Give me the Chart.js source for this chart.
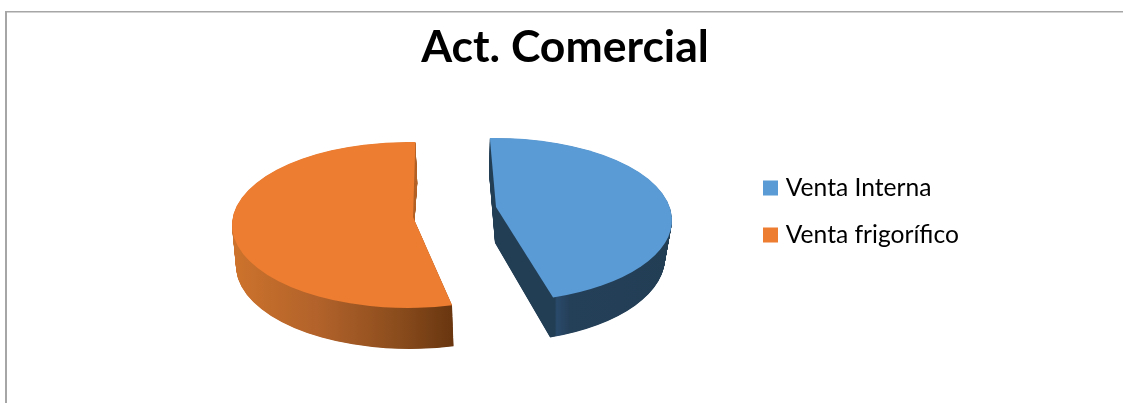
<!DOCTYPE html>
<html>
<head>
<meta charset="utf-8">
<style>html,body{margin:0;padding:0;background:#fff}canvas{display:block}</style>
<script src="https://cdn.jsdelivr.net/npm/chart.js@4"></script>
</head>
<body>
<canvas id="c" width="1123" height="403"></canvas>
<script>
const titleText = 'Act. Comercial';
const categories = ['Venta Interna', 'Venta frigorífico'];
const values = [45.3, 54.7];
const topColors = ['#5B9BD5', '#ED7D31'];
const rotationDeg = -2;

// Appearance of each slice as a tilted, exploded 3D wedge (styling only)
const sliceLook = [
  { shift: 0,
    top: { ax: 496, ay: 207, cx: 496, cy: 220, rx: 176, ry: 82 },
    bot: { ax: 495, ay: 243, cx: 495, cy: 258, rx: 170, ry: 84 },
    wall: [[0, '#223E55'], [0.36, '#223E55'], [0.37, '#2A4A6B'], [0.44, '#243F58'], [1, '#223E55']], gx0: 489, gx1: 672 },
  { shift: 4.4 * Math.PI / 180,
    top: { ax: 413, ay: 217, cx: 408, cy: 225, rx: 176, ry: 83 },
    bot: { ax: 412, ay: 255, cx: 410, cy: 266, rx: 174, ry: 83 },
    wall: [[0, '#CC722C'], [0.4, '#B0612A'], [0.75, '#8A4C1C'], [1, '#693610']], gx0: 236, gx1: 453,
    innerFace: { color: '#B5642A', x: 405, y: 130, w: 20, h: 132 } }
];

function lerp(a, b, t) { return a + (b - a) * t; }

const piePlugin = {
  id: 'tiltedPie',
  afterLayout(chart) {
    const lg = chart.legend;
    lg.left = 745.1; lg.top = 153.3;
  },
  beforeDraw(chart) {
    const ctx = chart.ctx;
    ctx.save();
    ctx.fillStyle = '#fff';
    ctx.fillRect(0, 0, chart.width, chart.height);
    ctx.fillStyle = '#A6A6A6';
    ctx.fillRect(5, 11, chart.width - 5, 1.5);
    ctx.fillRect(5, 11, 2, chart.height - 11);
    ctx.restore();
  },
  beforeDatasetDraw(chart, args) {
    const ctx = chart.ctx;
    const arcs = chart.getDatasetMeta(args.index).data;
    ctx.save();
    arcs.forEach((arc, i) => {
      const L = sliceLook[i];
      const a0 = arc.startAngle + L.shift, a1 = arc.endAngle + L.shift;
      const wedge = t => {
        ctx.beginPath();
        ctx.moveTo(lerp(L.top.ax, L.bot.ax, t), lerp(L.top.ay, L.bot.ay, t));
        ctx.ellipse(lerp(L.top.cx, L.bot.cx, t), lerp(L.top.cy, L.bot.cy, t),
                    lerp(L.top.rx, L.bot.rx, t), lerp(L.top.ry, L.bot.ry, t), 0, a0, a1);
        ctx.closePath();
      };
      const g = ctx.createLinearGradient(L.gx0, 0, L.gx1, 0);
      L.wall.forEach(s => g.addColorStop(s[0], s[1]));
      const steps = 80;
      const sweep = () => { for (let k = steps; k > 0; k--) { wedge(k / steps); ctx.fill(); } };
      ctx.fillStyle = g;
      sweep();
      if (L.innerFace) {
        const f = L.innerFace;
        ctx.save();
        ctx.beginPath();
        ctx.rect(f.x, f.y, f.w, f.h);
        ctx.clip();
        ctx.fillStyle = f.color;
        sweep();
        ctx.restore();
      }
      ctx.fillStyle = arc.options.backgroundColor;
      wedge(0); ctx.fill();
    });
    ctx.restore();
    return false;
  }
};

new Chart(document.getElementById('c'), {
  type: 'pie',
  plugins: [piePlugin],
  data: {
    labels: categories,
    datasets: [{ data: values, backgroundColor: topColors, borderWidth: 0 }]
  },
  options: {
    responsive: false,
    animation: false,
    rotation: rotationDeg,
    layout: { padding: { left: 7 } },
    plugins: {
      tooltip: { enabled: false },
      title: {
        display: true, text: titleText, color: '#000',
        font: { family: 'Lato', weight: 'bold', size: 44.5 },
        padding: { top: 21, bottom: 10 }
      },
      legend: {
        position: 'right', align: 'start',
        labels: {
          color: '#111', boxWidth: 6, boxHeight: 6, padding: 22.4,
          font: { family: 'Lato', size: 24.6 },
          generateLabels: () => categories.map((t, i) => ({
            text: t, fillStyle: topColors[i], strokeStyle: topColors[i], lineWidth: 9, hidden: false, index: i
          }))
        }
      }
    }
  }
});
</script>
</body>
</html>
